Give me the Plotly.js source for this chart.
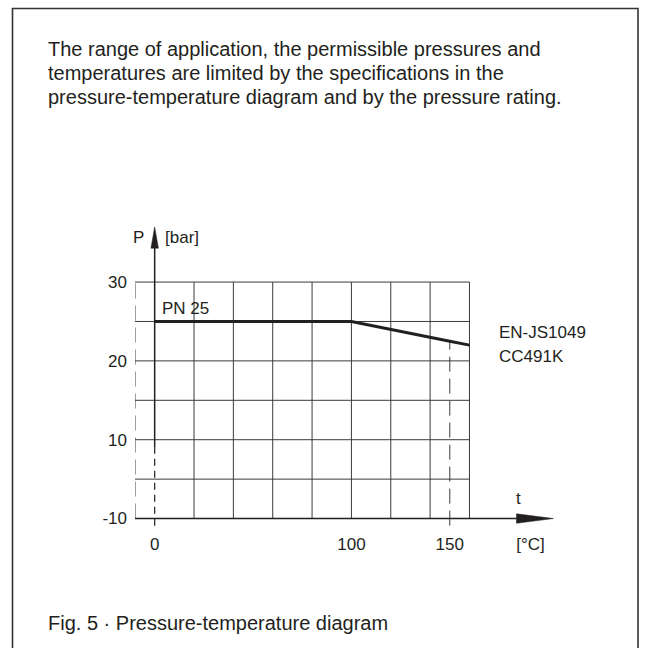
<!DOCTYPE html>
<html>
<head>
<meta charset="utf-8">
<script src="https://cdn.plot.ly/plotly-3.0.1.min.js"></script>
<style>html,body{margin:0;padding:0;background:#fff;}</style>
</head>
<body>
<div id="chart" style="width:645px;height:648px;"></div>
<script>
// ---- data ----
const temperature = [0, 100, 150, 160];      // °C
const pressure = [25, 25, 22.5, 22];          // bar
const limitTemp = 150;
const limitPressure = 22.5;
const curveLabel = "PN 25";
const materialLabels = ["EN-JS1049", "CC491K"];
const xTickVals = [0, 100, 150, 191];
const xTickText = ["0", "100", "150", "[°C]"];
const yTickVals = [0, 10, 20, 30];
const yTickText = ["-10", "10", "20", "30"];
const gridX = [20, 40, 60, 80, 100, 120, 140, 160];
const gridY = [5, 10, 15, 20, 25, 30];
const introLines = [
  "The range of application, the permissible pressures and",
  "temperatures are limited by the specifications in the",
  "pressure-temperature diagram and by the pressure rating."
];
const caption = "Fig. 5 · Pressure-temperature diagram";

// ---- layout helpers ----
const W = 645, H = 648;
const M = {l: 135, r: 87, t: 219, b: 120};
const PW = W - M.l - M.r, PH = H - M.t - M.b;
const px2paperX = px => (px - M.l) / PW;
const py2paperY = py => (H - M.b - py) / PH;
const FONT = "Liberation Sans, Arial, sans-serif";
const INK = "#231f20";
const GRID = "#3a3a3a";
const xMin = -10, xMax = 160, yMin = 0, yMax = 30;

const shapes = [];
gridX.forEach(x => shapes.push({type: "line", xref: "x", yref: "y", x0: x, x1: x, y0: yMin, y1: yMax,
  line: {color: GRID, width: 1}, layer: "below"}));
gridY.forEach(y => shapes.push({type: "line", xref: "x", yref: "y", x0: xMin, x1: xMax, y0: y, y1: y,
  line: {color: GRID, width: 1}, layer: "below"}));
// dashed left edge
shapes.push({type: "line", xref: "x", yref: "y", x0: xMin, x1: xMin, y0: yMin, y1: yMax,
  line: {color: GRID, width: 1, dash: "15px,7px"}, layer: "below"});
// P axis: dashed low part, solid upper part
shapes.push({type: "line", xref: "x", yref: "y", x0: 0, x1: 0, y0: -0.9, y1: 9,
  line: {color: INK, width: 1.2, dash: "7px,5px"}, layer: "below"});
shapes.push({type: "line", xref: "x", yref: "y", x0: 0, x1: 0, y0: 9, y1: 34.6,
  line: {color: INK, width: 1.5}, layer: "below"});
shapes.push({type: "path", xref: "x", yref: "y", path: "M -1.9,34.3 L 0,37.0 L 1.9,34.3 Z",
  fillcolor: INK, line: {color: INK, width: 0.5}});
// t axis
shapes.push({type: "line", xref: "x", yref: "y", x0: xMin, x1: 184, y0: 0, y1: 0,
  line: {color: INK, width: 1.5}, layer: "below"});
shapes.push({type: "path", xref: "x", yref: "y", path: "M 183.9,-0.6 L 202.7,0 L 183.9,0.6 Z",
  fillcolor: INK, line: {color: INK, width: 0.5}});
// limit dashed line at 150 °C
shapes.push({type: "line", xref: "x", yref: "y", x0: limitTemp, x1: limitTemp, y0: -0.9, y1: limitPressure,
  line: {color: GRID, width: 1, dash: "15px,7px"}, layer: "below"});
// outer frame
shapes.push({type: "rect", xref: "paper", yref: "paper",
  x0: px2paperX(12.5), x1: px2paperX(638), y0: py2paperY(670), y1: py2paperY(8.5),
  line: {color: "#333", width: 1.6}, fillcolor: "rgba(0,0,0,0)"});

const f17 = {family: FONT, size: 17, color: INK};
const f20 = {family: FONT, size: 20, color: INK};
const annotations = [
  {xref: "x", yref: "y", x: 2.5, y: 26.7, text: curveLabel, showarrow: false, xanchor: "left", yanchor: "middle", font: f17},
  {xref: "x", yref: "y", x: 174.2, y: 23.55, text: materialLabels[0], showarrow: false, xanchor: "left", yanchor: "middle", font: f17},
  {xref: "x", yref: "y", x: 174.2, y: 20.5, text: materialLabels[1], showarrow: false, xanchor: "left", yanchor: "middle", font: f17},
  {xref: "x", yref: "y", x: -8, y: 35.7, text: "P", showarrow: false, xanchor: "center", yanchor: "middle", font: f17},
  {xref: "x", yref: "y", x: 4, y: 35.7, text: "[bar]", showarrow: false, xanchor: "left", yanchor: "middle", font: f17},
  {xref: "x", yref: "y", x: 184.7, y: 2.6, text: "t", showarrow: false, xanchor: "center", yanchor: "middle", font: f17}
];
[49, 73, 97].forEach((py, i) => annotations.push({xref: "paper", yref: "paper", x: px2paperX(46), y: py2paperY(py),
  text: introLines[i], showarrow: false, xanchor: "left", yanchor: "middle", font: f20}));
annotations.push({xref: "paper", yref: "paper", x: px2paperX(46), y: py2paperY(623),
  text: caption, showarrow: false, xanchor: "left", yanchor: "middle", font: f20});

const traces = [{
  x: temperature, y: pressure, type: "scatter", mode: "lines",
  line: {color: INK, width: 3}, hoverinfo: "skip"
}];

const layout = {
  width: W, height: H, margin: M, showlegend: false,
  paper_bgcolor: "#fff", plot_bgcolor: "rgba(0,0,0,0)",
  xaxis: {range: [-10, 205], showgrid: false, zeroline: false, showline: false, ticks: "",
    tickmode: "array", tickvals: xTickVals, ticktext: xTickText, tickfont: f17, ticklabelstandoff: 4, fixedrange: true},
  yaxis: {range: [-1.2, 38], showgrid: false, zeroline: false, showline: false, ticks: "",
    tickmode: "array", tickvals: yTickVals, ticktext: yTickText, tickfont: f17, ticklabelstandoff: 7, fixedrange: true},
  shapes: shapes, annotations: annotations
};
Plotly.newPlot("chart", traces, layout, {displayModeBar: false, staticPlot: true});
</script>
</body>
</html>
